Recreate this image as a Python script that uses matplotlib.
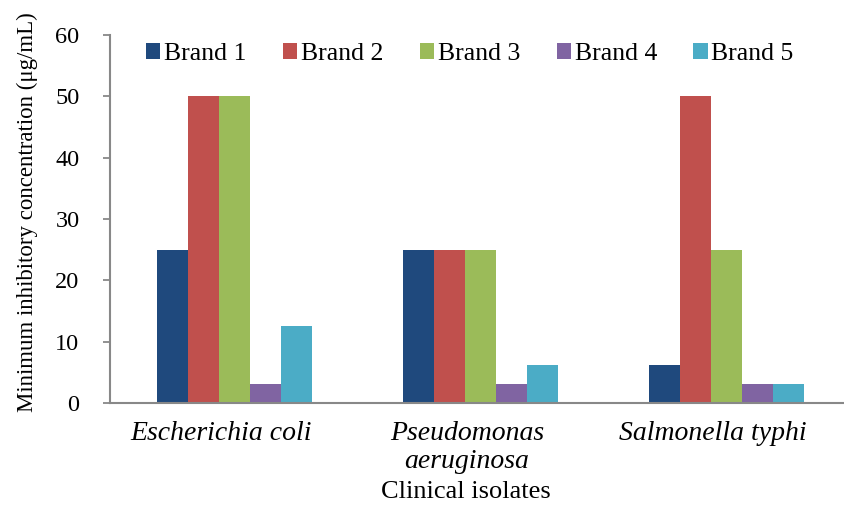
import matplotlib
matplotlib.use("Agg")
import matplotlib.pyplot as plt
import matplotlib.transforms as mtransforms
import numpy as np

categories = ["Escherichia coli", "Pseudomonas\naeruginosa", "Salmonella typhi"]
brands = ["Brand 1", "Brand 2", "Brand 3", "Brand 4", "Brand 5"]
brand1 = [25, 25, 6.25]
brand2 = [50, 25, 50]
brand3 = [50, 25, 25]
brand4 = [3.125, 3.125, 3.125]
brand5 = [12.5, 6.25, 3.125]
series = [brand1, brand2, brand3, brand4, brand5]
colors = ["#1F497D", "#C0504D", "#9BBB59", "#8064A2", "#4BACC6"]

plt.rcParams['font.family'] = ['Liberation Serif', 'DejaVu Serif']

W, H = 844, 509
fig = plt.figure(figsize=(W / 100, H / 100), dpi=100)
left, right, top, bottom = 110, 848, 35, 403
ax = fig.add_axes([left / W, 1 - bottom / H, (right - left) / W, (bottom - top) / H])

x = np.arange(len(categories))
w = 0.126
for i, (s, c, b) in enumerate(zip(series, colors, brands)):
    ax.bar(x + (i - 2) * w + 0.006, s, width=w, color=c, label=b)

ax.set_xlim(-0.5, 2.5)
ax.set_ylim(0, 60)
ax.set_yticks(range(0, 61, 10))
ax.set_xticks(x)
ax.set_xticklabels(categories, fontstyle='italic', fontsize=20, linespacing=1.15)
ax.tick_params(axis='x', length=0, pad=13)
offset = mtransforms.ScaledTranslation(-12 / 100, 0, fig.dpi_scale_trans)
for lbl in ax.get_xticklabels():
    lbl.set_transform(lbl.get_transform() + offset)
ax.tick_params(axis='y', length=5, width=1.3, color='#888888', labelsize=17.5, pad=17, direction='out')
for sp in ['top', 'right']:
    ax.spines[sp].set_visible(False)
for sp in ['left', 'bottom']:
    ax.spines[sp].set_color('#888888')
    ax.spines[sp].set_linewidth(1.5)

ax.set_xlabel("Clinical isolates", fontsize=19, labelpad=10)
ax.xaxis.set_label_coords((466 - left) / (right - left), -(492 - bottom) / (bottom - top))
ax.xaxis.label.set_va('center')
ax.set_ylabel("Minimum inhibitory concentration (μg/mL)", fontsize=16.5)
ax.yaxis.set_label_coords((38 - left) / (right - left), (bottom - 212.5) / (bottom - top))

leg = fig.legend(loc='center left', bbox_to_anchor=(146 / W, 1 - 54 / H), ncol=5, frameon=False,
                 fontsize=18.5, handlelength=0.55, handleheight=0.55, handletextpad=0.15,
                 columnspacing=1.42, borderpad=0, borderaxespad=0)

fig.savefig("out.png", dpi=100)
